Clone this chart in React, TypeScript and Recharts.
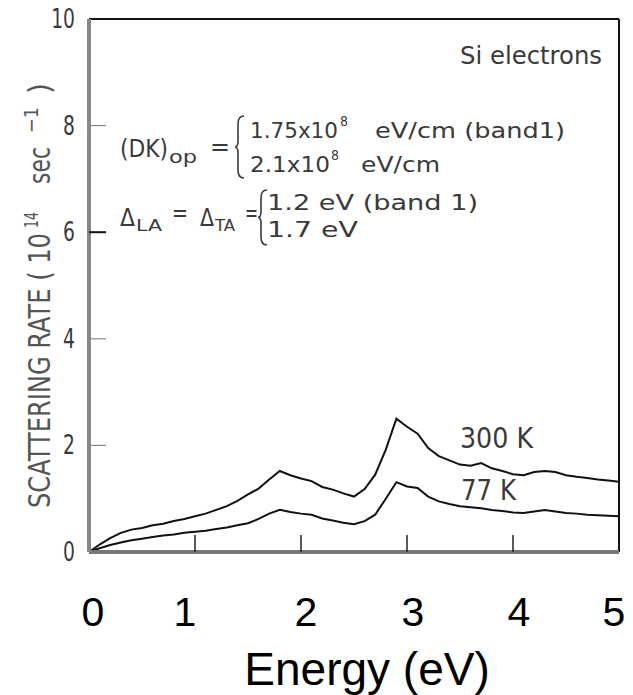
import React from 'react';
import { LineChart, Line, XAxis, YAxis, ReferenceLine, Customized } from 'recharts';

// Electron energy (eV)
const energy = [
  0.0, 0.1, 0.2, 0.3, 0.4, 0.5, 0.6, 0.7, 0.8, 0.9,
  1.0, 1.1, 1.2, 1.3, 1.4, 1.5, 1.6, 1.7, 1.8, 1.9,
  2.0, 2.1, 2.2, 2.3, 2.4, 2.5, 2.6, 2.7, 2.8, 2.9,
  3.0, 3.1, 3.2, 3.3, 3.4, 3.5, 3.6, 3.7, 3.8, 3.9,
  4.0, 4.1, 4.2, 4.3, 4.4, 4.5, 4.6, 4.7, 4.8, 4.9, 5.0,
];

// Total scattering rate at 300 K (10^14 s^-1)
const rate300K = [
  0.0, 0.14, 0.26, 0.36, 0.42, 0.45, 0.5, 0.53, 0.58, 0.62,
  0.67, 0.72, 0.79, 0.86, 0.96, 1.08, 1.19, 1.36, 1.52, 1.44,
  1.38, 1.33, 1.22, 1.17, 1.1, 1.04, 1.18, 1.45, 1.92, 2.5,
  2.35, 2.22, 1.95, 1.8, 1.72, 1.64, 1.62, 1.67, 1.57, 1.52,
  1.46, 1.44, 1.5, 1.52, 1.5, 1.44, 1.41, 1.39, 1.36, 1.34, 1.32,
];

// Total scattering rate at 77 K (10^14 s^-1)
const rate77K = [
  0.0, 0.07, 0.13, 0.18, 0.22, 0.25, 0.28, 0.31, 0.33, 0.36,
  0.38, 0.4, 0.43, 0.46, 0.5, 0.54, 0.62, 0.72, 0.79, 0.75,
  0.72, 0.7, 0.63, 0.59, 0.55, 0.52, 0.58, 0.7, 1.0, 1.31,
  1.23, 1.2, 1.04, 0.95, 0.9, 0.86, 0.84, 0.82, 0.79, 0.77,
  0.74, 0.73, 0.76, 0.79, 0.76, 0.73, 0.72, 0.7, 0.69, 0.68, 0.67,
];

const xTicks = [0, 1, 2, 3, 4, 5];
const yTicks = [0, 2, 4, 6, 8, 10];

const data = energy.map((e, i) => ({ energy: e, t300: rate300K[i], t77: rate77K[i] }));

const NARROW = '"Liberation Sans Narrow", "DejaVu Sans Condensed", "Liberation Sans", sans-serif';
const INK = '#3a3a3a';

// small horizontal nudges for the big energy labels
const xLabelNudge: Record<number, number> = { 0: 4, 1: -10, 2: 5, 3: 6, 4: 6, 5: -5 };

const XTick = (props: any) => {
  const { x, y, payload } = props;
  const v = payload.value as number;
  return (
    <g>
      {v > 0 && v < 5 && (
        <line x1={x} x2={x} y1={y} y2={y - 17} stroke="#222" strokeWidth={1.5} />
      )}
      <text
        x={x + (xLabelNudge[v] ?? 0)}
        y={y + 74}
        textAnchor="middle"
        fontSize={41}
        fontFamily='"Liberation Sans", Arial, sans-serif'
        fill="#000"
      >
        {v}
      </text>
    </g>
  );
};

const YTick = (props: any) => {
  const { x, y, payload } = props;
  const v = payload.value as number;
  return (
    <g>
      {v > 0 && v < 10 && (
        <line
          x1={x}
          x2={x + 17}
          y1={y}
          y2={y}
          stroke={v === 6 ? '#111' : '#888'}
          strokeWidth={v === 6 ? 2 : 1.2}
        />
      )}
      <text
        x={x - 14}
        y={y + 9}
        textAnchor="end"
        fontSize={26}
        fontFamily={NARROW}
        fill={INK}
        transform={`translate(${x - 14},${y}) scale(0.8,1) translate(${-(x - 14)},${-y})`}
      >
        {v}
      </text>
    </g>
  );
};

type TProps = {
  x: number;
  y: number;
  len: number;
  size: number;
  children: React.ReactNode;
  anchor?: 'start' | 'middle' | 'end';
};

const T = ({ x, y, len, size, children, anchor = 'start' }: TProps) => (
  <text
    x={x}
    y={y}
    fontSize={size}
    fontFamily={NARROW}
    fill={INK}
    textAnchor={anchor}
    textLength={len}
    lengthAdjust="spacingAndGlyphs"
  >
    {children}
  </text>
);

// vertical text reading bottom to top; (x, y) is the baseline start
const VT = ({ x, y, len, size, children }: TProps) => (
  <text
    transform={`translate(${x},${y}) rotate(-90)`}
    fontSize={size}
    fontFamily={NARROW}
    fill="#555"
    textLength={len}
    lengthAdjust="spacingAndGlyphs"
  >
    {children}
  </text>
);

const Brace = ({ x, top, bottom }: { x: number; top: number; bottom: number }) => {
  const mid = (top + bottom) / 2;
  const w = 9;
  return (
    <path
      d={`M ${x + w} ${top} Q ${x + 3} ${top} ${x + 3} ${top + 8} L ${x + 3} ${mid - 6} Q ${x + 3} ${mid} ${x} ${mid} Q ${x + 3} ${mid} ${x + 3} ${mid + 6} L ${x + 3} ${bottom - 8} Q ${x + 3} ${bottom} ${x + w} ${bottom}`}
      fill="none"
      stroke={INK}
      strokeWidth={1.6}
    />
  );
};

const Annotations = () => (
  <g>
    {/* axis title */}
    <VT x={50} y={508} len={275} size={30}>SCATTERING  RATE  ( 10</VT>
    <VT x={38} y={228} len={16} size={20}>14</VT>
    <VT x={50} y={184} len={37} size={30}>sec</VT>
    <VT x={38} y={133} len={26} size={20}>−1</VT>
    <VT x={50} y={94} len={11} size={30}>)</VT>

    <T x={460} y={64} len={142} size={24}>Si electrons</T>

    {/* optical deformation potential */}
    <T x={120} y={157} len={48} size={24}>(DK)</T>
    <T x={169} y={163} len={28} size={17}>op</T>
    <T x={210} y={155} len={20} size={24}>=</T>
    <Brace x={235} top={116} bottom={178} />
    <T x={250} y={138} len={88} size={22}>1.75x10</T>
    <T x={340} y={126} len={8} size={14}>8</T>
    <T x={375} y={138} len={190} size={22}>eV/cm (band1)</T>
    <T x={250} y={172} len={80} size={22}>2.1x10</T>
    <T x={331} y={160} len={8} size={14}>8</T>
    <T x={361} y={172} len={79} size={22}>eV/cm</T>

    {/* acoustic deformation potentials */}
    <T x={120} y={226} len={15} size={24}>Δ</T>
    <T x={136} y={231} len={26} size={16}>LA</T>
    <T x={172} y={221} len={16} size={24}>=</T>
    <T x={200} y={226} len={14} size={24}>Δ</T>
    <T x={215} y={231} len={20} size={16}>TA</T>
    <T x={245} y={221} len={13} size={24}>=</T>
    <Brace x={258} top={190} bottom={245} />
    <T x={267} y={210} len={211} size={22}>1.2 eV (band 1)</T>
    <T x={267} y={237} len={91} size={22}>1.7 eV</T>

    {/* curve labels */}
    <T x={460} y={448} len={73} size={28}>300 K</T>
    <T x={461} y={500} len={55} size={28}>77 K</T>

    {/* x axis title */}
    <text
      x={367}
      y={685}
      textAnchor="middle"
      fontSize={46}
      fontFamily='"Liberation Sans", Arial, sans-serif'
      fill="#000"
    >
      Energy (eV)
    </text>
  </g>
);

export default function App() {
  return (
    <div style={{ position: 'absolute', left: 0, top: 0, background: '#fff' }}>
      <LineChart
        width={633}
        height={695}
        data={data}
        margin={{ top: 19, right: 14, bottom: 0, left: 0 }}
      >
        <XAxis
          dataKey="energy"
          type="number"
          domain={[0, 5]}
          ticks={xTicks}
          height={143}
          tickSize={0}
          tickMargin={0}
          tickLine={false}
          axisLine={{ stroke: '#777', strokeWidth: 4 }}
          tick={<XTick />}
          interval={0}
        />
        <YAxis
          type="number"
          domain={[0, 10]}
          ticks={yTicks}
          width={89}
          tickSize={0}
          tickMargin={0}
          tickLine={false}
          axisLine={{ stroke: '#888', strokeWidth: 4 }}
          tick={<YTick />}
          interval={0}
        />
        <ReferenceLine y={10} stroke="#111" strokeWidth={2} />
        <ReferenceLine x={5} stroke="#111" strokeWidth={2} />
        <Line
          dataKey="t300"
          type="linear"
          stroke="#111"
          strokeWidth={2}
          dot={false}
          isAnimationActive={false}
        />
        <Line
          dataKey="t77"
          type="linear"
          stroke="#111"
          strokeWidth={2}
          dot={false}
          isAnimationActive={false}
        />
        <Customized component={Annotations} />
      </LineChart>
    </div>
  );
}
